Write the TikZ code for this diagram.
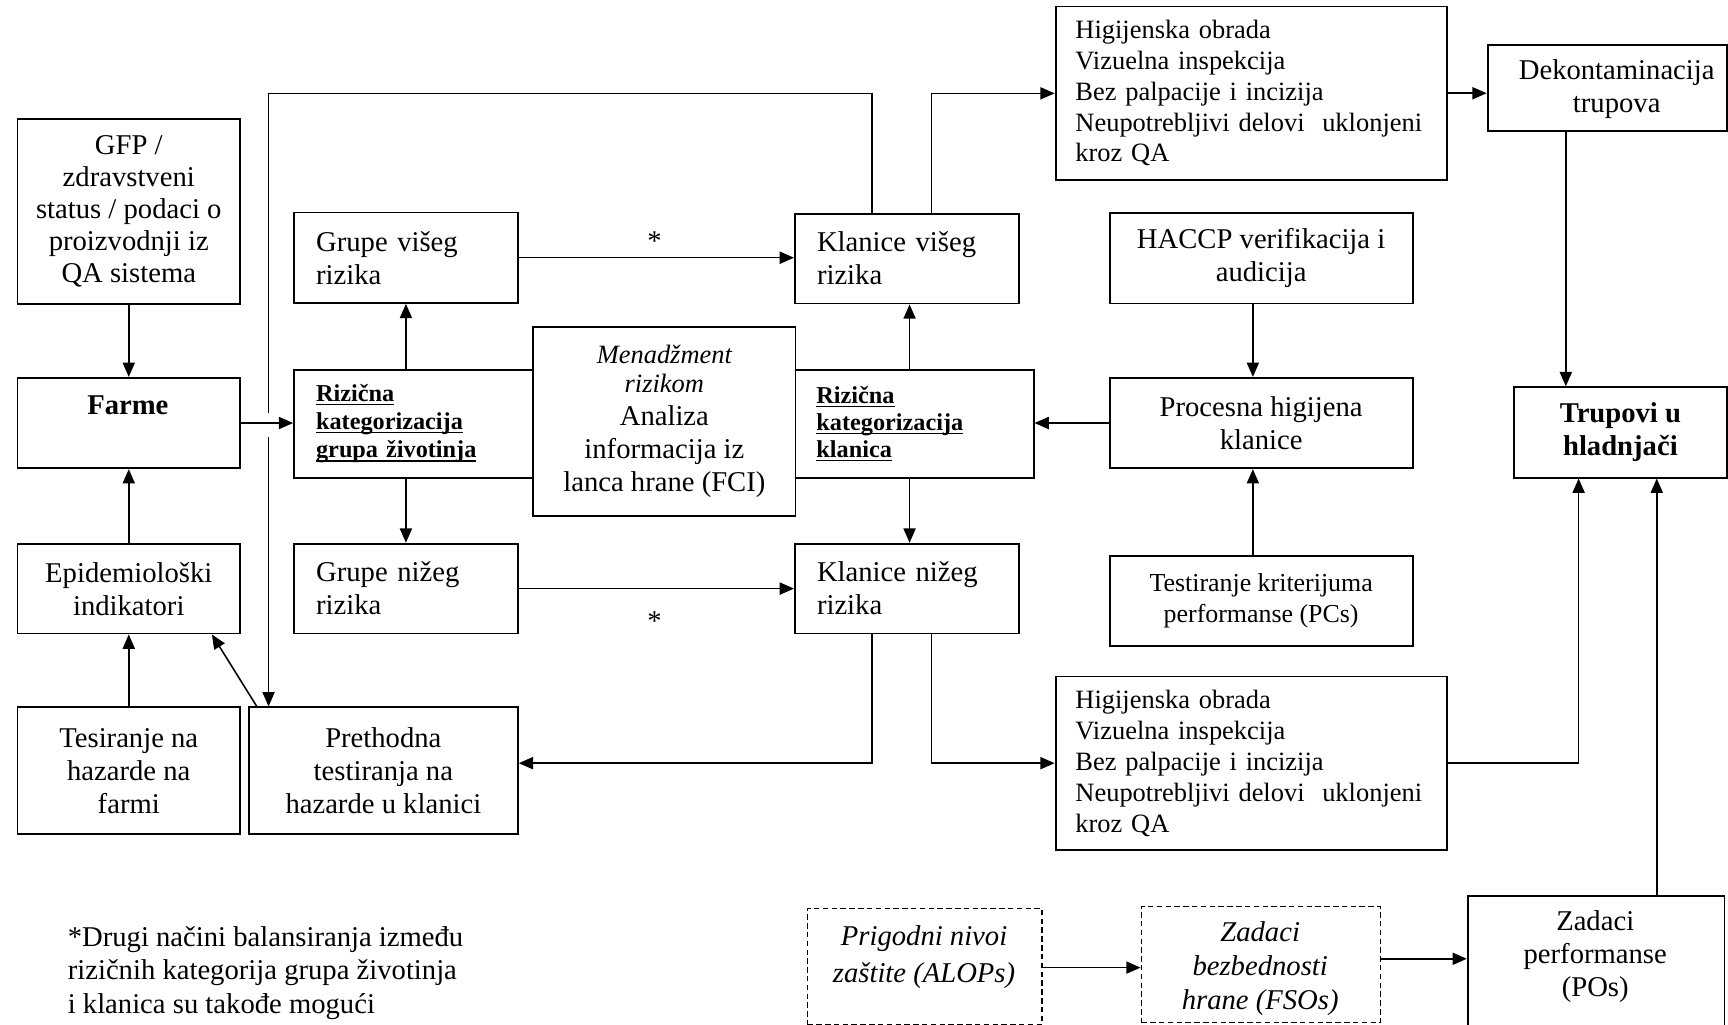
\documentclass[tikz,border=0pt]{standalone}
\usepackage{fontspec}
\setmainfont{Liberation Serif}
\usetikzlibrary{arrows.meta}
\newcommand{\fsz}[2]{\fontsize{#1}{#2}\selectfont}
% word-style underline at a fixed depth below the baseline
\newcommand{\uword}[1]{\leavevmode\setbox0\hbox{#1}\rlap{\rule[-3.6pt]{\wd0}{1.4pt}}\box0}

\begin{document}
\begin{tikzpicture}[x=1pt,y=-1pt,
  box/.style={draw, line width=1.7pt, fill=white, inner sep=0pt, anchor=north west},
  dbox/.style={draw, line width=1.2pt, dash pattern=on 5pt off 3pt, inner sep=0pt, anchor=north west},
  ctext/.style={align=center, font=\fsz{26}{30}},
  ltext/.style={align=left, font=\fsz{26}{30}},
  arr/.style={line width=1.4pt, -{Triangle[length=13pt,width=11pt]}},
  ln/.style={line width=1.4pt}]
\clip (0,0) rectangle (1568,930);
\fill[white] (0,0) rectangle (1568,930);

% ---------- left column ----------
\node[box, ctext, font=\fsz{26}{29}, minimum width=202pt, minimum height=168pt] (gfp) at (15,107)
  {GFP /\\zdravstveni\\status / podaci o\\proizvodnji iz\\QA sistema};
\node[box, minimum width=202pt, minimum height=82pt] (farme) at (15,342) {};
\node[font=\fsz{26}{30}\bfseries] (farmetxt) at (116,368) {Farme};
\node[box, ctext, minimum width=202pt, minimum height=81pt] (epi) at (15,493)
  {Epidemiološki\\indikatori};
\node[box, ctext, minimum width=202pt, minimum height=115pt] (tes) at (15,641)
  {Tesiranje na\\hazarde na\\farmi};
\node[box, ctext, minimum width=244pt, minimum height=115pt] (pre) at (225,641)
  {Prethodna\\testiranja na\\hazarde u klanici};

% ---------- risk categorisation of animal groups ----------
\node[box, ltext, text width=163pt, inner xsep=20pt, minimum height=82pt] (gv) at (266,192)
  {Grupe višeg\\rizika};
\node[box, ltext, font=\fsz{22}{25.5}\bfseries, text width=190pt, inner xsep=20pt, minimum height=98pt] (rg) at (266,334.5)
  {\uword{Rizična}\\\uword{kategorizacija}\\\uword{grupa životinja}};
\node[box, ltext, text width=163pt, inner xsep=20pt, minimum height=81.5pt] (gn) at (266,492.5)
  {Grupe nižeg\\rizika};

% ---------- risk categorisation of slaughterhouses ----------
\node[box, ltext, font=\fsz{22}{24.5}\bfseries, text width=178pt, inner xsep=19pt, minimum height=98pt] (rk) at (721,334.5)
  {\uword{Rizična}\\\uword{kategorizacija}\\\uword{klanica}};
\node[box, ctext, minimum width=238pt, minimum height=171pt] (fci) at (483,296)
  {{\fsz{24}{27}\itshape Menadžment}\\[-3pt]{\fsz{24}{27}\itshape rizikom}\\Analiza\\informacija iz\\lanca hrane (FCI)};
\node[box, ltext, text width=163pt, inner xsep=20pt, minimum height=81.5pt] (kv) at (720.5,193)
  {Klanice višeg\\rizika};
\node[box, ltext, text width=163pt, inner xsep=20pt, minimum height=81.5pt] (kn) at (720.5,492.5)
  {Klanice nižeg\\rizika};

% ---------- slaughter line ----------
\node[box, ltext, font=\fsz{24}{28}, text width=319pt, inner xsep=18pt, minimum height=157.5pt] (hu) at (957,5)
  {Higijenska obrada\\Vizuelna inspekcija\\Bez palpacije i incizija\\Neupotrebljivi delovi\ \ uklonjeni\\kroz QA};
\node[box, ltext, font=\fsz{24}{28}, text width=319pt, inner xsep=18pt, minimum height=157.5pt] (hl) at (957,613)
  {Higijenska obrada\\Vizuelna inspekcija\\Bez palpacije i incizija\\Neupotrebljivi delovi\ \ uklonjeni\\kroz QA};
\node[box, minimum width=217pt, minimum height=78pt] (dek) at (1349,40) {};
\node[ctext] (dektxt) at (1467,81) {Dekontaminacija\\trupova};
\node[box, ctext, minimum width=275pt, minimum height=82pt] (hac) at (1006,192.5)
  {HACCP verifikacija i\\audicija};
\node[box, ctext, minimum width=275pt, minimum height=82pt] (pro) at (1006,342)
  {Procesna higijena\\klanice};
\node[box, ctext, font=\fsz{23.5}{28}, minimum width=275pt, minimum height=81pt] (tkp) at (1006,504)
  {Testiranje kriterijuma\\performanse (PCs)};
\node[box, ctext, font=\fsz{26}{30}\bfseries, minimum width=193pt, minimum height=82pt] (tru) at (1373,350.5)
  {Trupovi u\\hladnjači};

% ---------- targets ----------
\node[dbox, minimum width=213pt, minimum height=105pt] (alop) at (732,824) {};
\node[align=center, font=\fsz{26}{33}\itshape] (aloptxt) at (838.5,868.5)
  {Prigodni nivoi\\zaštite (ALOPs)};
\node[dbox, minimum width=217pt, minimum height=105pt] (fso) at (1035,822) {};
\node[align=center, font=\fsz{26}{31}\itshape] (fsotxt) at (1143.5,879)
  {Zadaci\\bezbednosti\\hrane (FSOs)};
\node[box, minimum width=233pt, minimum height=135pt] (pos) at (1331,812) {};
\node[ctext] (postxt) at (1447.5,868)
  {Zadaci\\performanse\\(POs)};

% ---------- footnote and marks ----------
\node[align=left, font=\fsz{26}{30.5}, anchor=west] (note) at (58,883)
  {*Drugi načini balansiranja između\\rizičnih kategorija grupa životinja\\i klanica su takođe mogući};
\node[font=\fsz{26}{30}] (ast1) at (594,219) {*};
\node[font=\fsz{26}{30}] (ast2) at (594,564) {*};

% ---------- connectors ----------
\coordinate (tl) at (243.7,84.7);
\coordinate (bl) at (0,692.5);

\draw[arr] (gfp.south) -- (farme.north);
\draw[arr] (epi.north) -- (farme.south);
\draw[arr] (tes.north) -- (epi.south);
\draw[arr] ([xshift=8pt]pre.north west) -- ([xshift=-26.4pt]epi.south east);
\draw[arr] (farme.east) -- (farme.east -| rg.west);

\draw[arr] (rg.north -| gv.south) -- (gv.south);
\draw[arr] (rg.south -| gn.north) -- (gn.north);
\draw[arr] (gv.east) -- (gv.east -| kv.west);
\draw[arr] (gn.east) -- (gn.east -| kn.west);
\draw[arr] ([xshift=2.5pt]kv.south |- rk.north) -- ([xshift=2.5pt]kv.south);
\draw[arr] ([xshift=2.5pt]kn.north |- rk.south) -- ([xshift=2.5pt]kn.north);

\draw[arr] (pro.west) -- (pro.west -| rk.east);
\draw[arr] ([xshift=-7.5pt]hac.south) -- ([xshift=-7.5pt]pro.north);
\draw[arr] ([xshift=-7.5pt]tkp.north) -- ([xshift=-7.5pt]pro.south);

% feedback from higher-risk slaughterhouses to pre-testing (with a gap at the crossing)
\draw[ln] ([xshift=-31.5pt]kv.north) |- (tl) -- ([yshift=9pt]tl |- farme.east);
\draw[arr] ([yshift=-13pt]tl |- farme.east) -- (tl |- pre.north);
\draw[arr] ([xshift=22.5pt]kv.north) |- (tl -| hu.west);

\draw[arr] ([xshift=-31.5pt]kn.south) |- (bl -| pre.east);
\draw[arr] ([xshift=22.5pt]kn.south) |- (bl -| hl.west);

\draw[arr] (hu.east) -- (hu.east -| dek.west);
\draw[arr] ([xshift=-37.5pt]dek.south) -- ([xshift=-37.5pt]dek.south |- tru.north);
\draw[arr] (bl -| hl.east) -| ([xshift=-37.9pt]tru.south);
\draw[arr] ([xshift=55pt]pos.north) -- ([xshift=55pt]pos.north |- tru.south);

\draw[arr] (alop.east |- 0,878) -- (fso.west |- 0,878);
\draw[arr] (fso.east |- 0,870) -- (pos.west |- 0,870);
\end{tikzpicture}
\end{document}
